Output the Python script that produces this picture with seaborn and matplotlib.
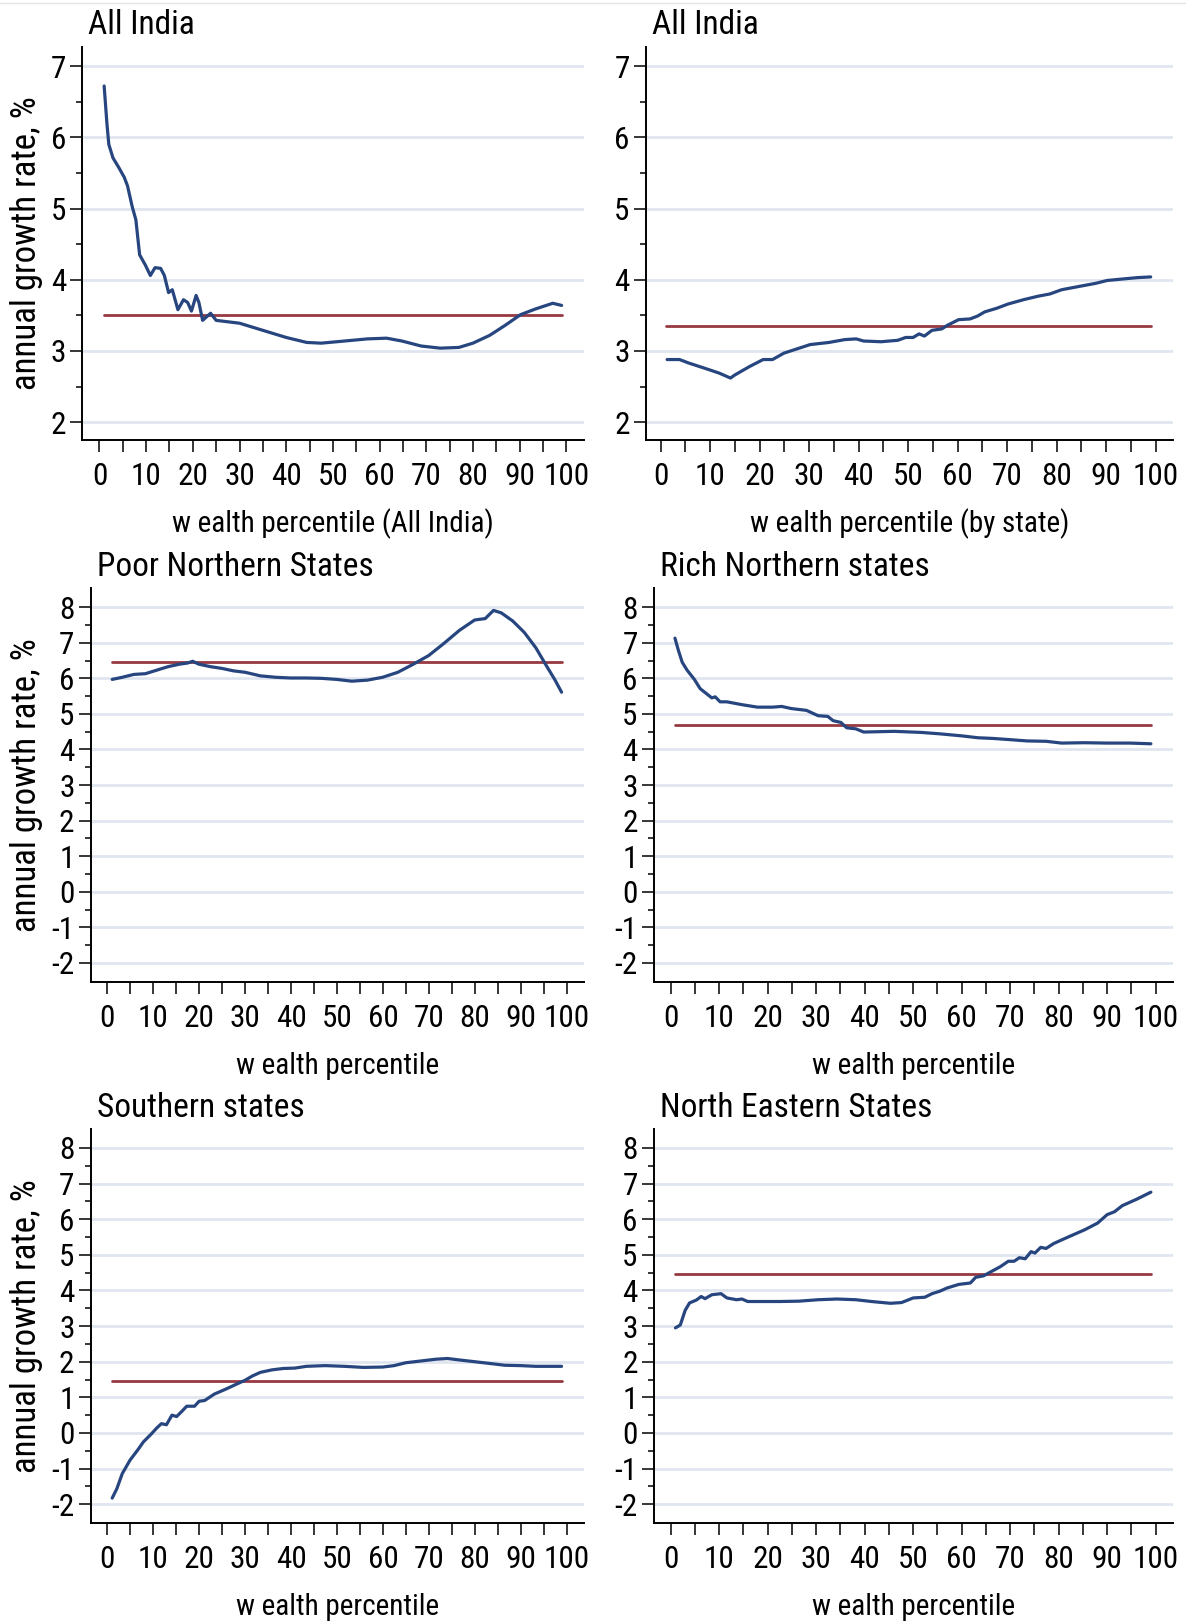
import numpy as np
import pandas as pd
import matplotlib
matplotlib.use('Agg')
import matplotlib.pyplot as plt
import seaborn as sns
from matplotlib.ticker import FixedLocator
from matplotlib.lines import Line2D
from matplotlib import font_manager as fm

sns.set_theme(style='white')
_avail = set(f.name for f in fm.fontManager.ttflist)
_pref = ['Liberation Sans Narrow', 'Arial Narrow', 'Roboto Condensed', 'PT Sans Narrow',
         'Archivo Narrow', 'Asap Condensed', 'DejaVu Sans']
FONT = [f for f in _pref if f in _avail][0]
plt.rcParams['font.family'] = [FONT, 'DejaVu Sans']
plt.rcParams['axes.unicode_minus'] = False

# ---------------- data ----------------
titles = ["All India", "All India", "Poor Northern States", "Rich Northern states",
          "Southern states", "North Eastern States"]
xlabels = ["w ealth percentile (All India)", "w ealth percentile (by state)",
           "w ealth percentile", "w ealth percentile", "w ealth percentile", "w ealth percentile"]
ylabel = "annual growth rate, %"
xticks = [0, 10, 20, 30, 40, 50, 60, 70, 80, 90, 100]
yticks_top = [2, 3, 4, 5, 6, 7]
yticks_rest = [-2, -1, 0, 1, 2, 3, 4, 5, 6, 7, 8]

p1_x = [1, 1.6, 2, 2.9, 4.1, 5.3, 6, 7, 7.8, 8.6, 9.8, 10.9, 11.9, 13.1, 13.9, 14.8, 15.6, 16.8, 18, 18.9,
        19.7, 20.7, 21.3, 22.1, 23.8, 25, 30, 36, 40, 44.4, 47.5, 52.5, 57.4, 61.5, 64.8, 68.9, 73, 77, 80, 83.6,
        86.9, 90.2, 93.4, 97.1, 99]
p1_y = [6.72, 6.19, 5.90, 5.71, 5.58, 5.44, 5.32, 5.03, 4.84, 4.35, 4.21, 4.06, 4.17, 4.16, 4.06, 3.82, 3.86, 3.58, 3.72, 3.68,
        3.56, 3.78, 3.68, 3.43, 3.53, 3.43, 3.39, 3.27, 3.19, 3.12, 3.11, 3.14, 3.17, 3.18, 3.14, 3.07, 3.04, 3.05, 3.11, 3.22,
        3.36, 3.51, 3.59, 3.67, 3.64]

p2_x = [1.3, 3.8, 5.7, 8.8, 11.8, 14.1, 14.9, 17.9, 20.7, 22.6, 24.9, 27.1, 30.2, 34, 37.2, 39.5, 41, 44.5, 47.9, 49.5,
        51, 52.2, 53.3, 54.8, 56.8, 57.9, 60.2, 62.5, 64, 65.5, 67.9, 70.2, 73.3, 76.3, 78.6, 81, 84.8, 87.9, 90.2, 93.2,
        96.3, 99]
p2_y = [2.88, 2.88, 2.83, 2.76, 2.69, 2.62, 2.66, 2.78, 2.88, 2.88, 2.97, 3.02, 3.09, 3.12, 3.16, 3.17, 3.14, 3.13, 3.15, 3.19,
        3.19, 3.24, 3.21, 3.29, 3.31, 3.36, 3.44, 3.45, 3.49, 3.55, 3.60, 3.66, 3.72, 3.77, 3.80, 3.86, 3.91, 3.95, 3.99, 4.01,
        4.03, 4.04]

p3_x = [1.1, 3.3, 5.8, 8.3, 10.8, 13.3, 15.8, 17.5, 18.6, 19.9, 22.4, 24.9, 27.5, 30, 33.3, 36.6, 39.9, 43.3, 46.6, 49.9,
        53.2, 56.6, 59.9, 63.2, 66.6, 69.9, 73.2, 76.6, 79.9, 82.2, 84, 85.7, 88.2, 90.7, 93.2, 95.7, 97.3, 98.8]
p3_y = [5.97, 6.03, 6.11, 6.13, 6.23, 6.33, 6.40, 6.43, 6.48, 6.40, 6.33, 6.28, 6.21, 6.17, 6.07, 6.03, 6.01, 6.01, 6.00, 5.97,
        5.92, 5.95, 6.03, 6.17, 6.40, 6.64, 6.98, 7.35, 7.64, 7.68, 7.91, 7.84, 7.61, 7.29, 6.86, 6.31, 5.97, 5.61]

p4_x = [0.9, 1.6, 2.4, 3.4, 4.9, 6.1, 7.3, 8.5, 9.2, 10.2, 11.6, 14.7, 17.9, 21, 22.9, 24.9, 28, 30.4, 32.4, 33.5,
        35.1, 36.3, 38.2, 39.8, 46.1, 51.6, 55.5, 60.2, 63.3, 66.5, 69.6, 73.5, 77.4, 80.6, 85.3, 90, 94.7, 99]
p4_y = [7.13, 6.79, 6.45, 6.23, 5.97, 5.71, 5.58, 5.45, 5.48, 5.34, 5.34, 5.26, 5.19, 5.19, 5.21, 5.15, 5.10, 4.95, 4.93, 4.81,
        4.76, 4.61, 4.58, 4.49, 4.51, 4.48, 4.44, 4.38, 4.33, 4.31, 4.28, 4.24, 4.23, 4.18, 4.19, 4.18, 4.18, 4.16]

p5_x = [1.1, 2.1, 3.3, 5, 6.7, 7.9, 9.6, 10.8, 11.8, 12.9, 14.1, 15.1, 16.2, 17.3, 19, 20, 21.2, 23.3, 25.8, 28.3,
        30, 31.6, 33.3, 35.8, 38.3, 40.8, 43.3, 47.4, 51.6, 55.7, 59.9, 62.4, 64.9, 68.2, 71.5, 74, 76.5, 79.9, 83.2, 86.5,
        89.9, 93.2, 98.8]
p5_y = [-1.83, -1.57, -1.14, -0.76, -0.47, -0.25, -0.03, 0.14, 0.26, 0.23, 0.50, 0.46, 0.60, 0.75, 0.75, 0.89, 0.91, 1.09, 1.23, 1.38,
        1.48, 1.60, 1.70, 1.77, 1.81, 1.82, 1.87, 1.89, 1.87, 1.84, 1.85, 1.89, 1.97, 2.02, 2.07, 2.09, 2.05, 2.00, 1.95, 1.90,
        1.89, 1.87, 1.87]

p6_x = [1, 2, 3, 3.9, 5.3, 6.3, 7.1, 8.5, 10.4, 11.6, 13.6, 14.7, 15.9, 18.7, 22.6, 26.5, 30.4, 34.3, 38.2, 41.4,
        45.3, 47.6, 50, 52.4, 53.9, 55.5, 57, 59.4, 61.8, 62.9, 64.5, 66.5, 68, 69.6, 70.8, 71.9, 73.1, 74.3, 75.1, 76.3,
        77.4, 79, 82.1, 85.3, 88, 90, 91.5, 93.1, 96.2, 99]
p6_y = [2.95, 3.03, 3.44, 3.65, 3.73, 3.83, 3.77, 3.88, 3.91, 3.79, 3.74, 3.76, 3.69, 3.69, 3.69, 3.70, 3.74, 3.76, 3.74, 3.69,
        3.64, 3.66, 3.79, 3.81, 3.91, 3.98, 4.07, 4.17, 4.21, 4.37, 4.41, 4.56, 4.67, 4.82, 4.82, 4.92, 4.89, 5.09, 5.05, 5.21,
        5.18, 5.32, 5.51, 5.70, 5.89, 6.13, 6.21, 6.38, 6.57, 6.76]

mean_growth = [3.50, 3.35, 6.45, 4.68, 1.45, 4.45]
mean_span = [1, 99]

series_x = [p1_x, p2_x, p3_x, p4_x, p5_x, p6_x]
series_y = [p1_y, p2_y, p3_y, p4_y, p5_y, p6_y]

# ---------------- layout (pixels) ----------------
W, H = 1186, 1621
fig = plt.figure(figsize=(W / 100, H / 100), dpi=100)
fig.patch.set_facecolor('white')

NAVY = '#27467f'
MAROON = '#983841'
GRID = '#e0e6ef'

row_tb = [(46.5, 440.1), (588.2, 981.8), (1129.3, 1523.4)]
panels = [
    dict(l=82.3, r=584.3, row=0, xlim=(-3.68, 103.86), ylim=(1.749, 7.275), yt=yticks_top),
    dict(l=645.9, r=1172.7, row=0, xlim=(-2.99, 103.45), ylim=(1.749, 7.275), yt=yticks_top),
    dict(l=90.7, r=584.3, row=1, xlim=(-3.57, 103.74), ylim=(-2.531, 8.534), yt=yticks_rest),
    dict(l=653.9, r=1172.7, row=1, xlim=(-3.44, 103.5), ylim=(-2.531, 8.534), yt=yticks_rest),
    dict(l=90.7, r=584.3, row=2, xlim=(-3.57, 103.74), ylim=(-2.54, 8.525), yt=yticks_rest),
    dict(l=653.9, r=1172.7, row=2, xlim=(-3.44, 103.5), ylim=(-2.54, 8.525), yt=yticks_rest),
]

TICK_FS = 22.5
XLABEL_FS = 21
YLABEL_FS = 25
TITLE_FS = 24

for i, p in enumerate(panels):
    t, b = row_tb[p['row']]
    l, r = p['l'], p['r']
    ax = fig.add_axes([l / W, 1 - b / H, (r - l) / W, (b - t) / H])
    ax.set_facecolor('white')

    df = pd.DataFrame({'pct': series_x[i], 'growth': series_y[i]})
    sns.lineplot(data=df, x='pct', y='growth', ax=ax, color=NAVY, linewidth=2.3,
                 estimator=None, sort=True, zorder=3)
    dm = pd.DataFrame({'pct': mean_span, 'growth': [mean_growth[i]] * 2})
    sns.lineplot(data=dm, x='pct', y='growth', ax=ax, color=MAROON, linewidth=2.0,
                 estimator=None, zorder=2)

    ax.set_xlim(*p['xlim'])
    ax.set_ylim(*p['ylim'])
    ax.set_xticks(xticks)
    ax.xaxis.set_minor_locator(FixedLocator([5 + 10 * k for k in range(10)]))
    yt = p['yt']
    ax.set_yticks(yt)
    ax.yaxis.set_minor_locator(FixedLocator([v + 0.5 for v in yt[:-1]]))
    ax.set_yticklabels([str(v) for v in yt])
    ax.set_xticklabels([str(v) for v in xticks])

    ax.grid(False)
    ax.yaxis.grid(True, which='major', color=GRID, linewidth=2.0, zorder=0)
    ax.set_axisbelow(True)

    for s in ['top', 'right']:
        ax.spines[s].set_visible(False)
    for s in ['left', 'bottom']:
        ax.spines[s].set_color('black')
        ax.spines[s].set_linewidth(1.4)

    ax.tick_params(axis='y', which='major', direction='out', length=8.7, width=1.1,
                   color='black', labelsize=TICK_FS, pad=3, left=True, labelcolor='black')
    ax.tick_params(axis='y', which='minor', direction='out', length=4.2, width=1.1,
                   color='black', left=True)
    ax.tick_params(axis='x', which='major', direction='out', length=8.8, width=1.1,
                   color='black', labelsize=TICK_FS, pad=7, bottom=True, labelcolor='black')
    ax.tick_params(axis='x', which='minor', direction='out', length=8.8, width=1.1,
                   color='black', bottom=True)

    ax.set_xlabel('')
    ax.set_ylabel('')

    fig.text((l + 6) / W, 1 - (t - 12) / H, titles[i], fontsize=TITLE_FS,
             ha='left', va='baseline', color='black')
    fig.text(((l + r) / 2) / W, 1 - (b + 92) / H, xlabels[i], fontsize=XLABEL_FS,
             ha='center', va='baseline', color='black')
    if i % 2 == 0:
        fig.text(27 / W, 1 - ((t + b) / 2) / H, ylabel, fontsize=YLABEL_FS,
                 rotation=90, ha='center', va='center', color='black')

fig.add_artist(Line2D([0, 1], [1 - 3 / H, 1 - 3 / H], color='#e4e4e4', linewidth=1.0))

fig.savefig('out.png', dpi=100, facecolor='white')
